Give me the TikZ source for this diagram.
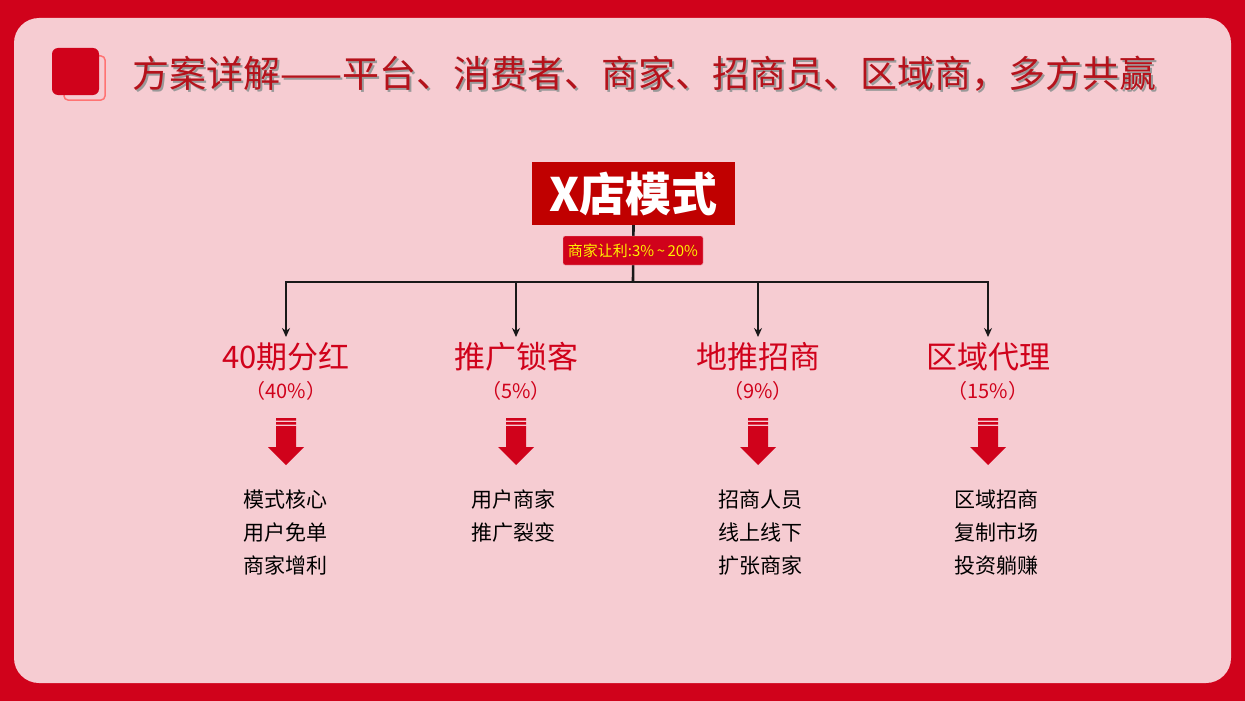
\documentclass[tikz,border=0pt]{standalone}
\usepackage{fontspec}
\setmainfont{Noto Sans CJK SC}
\usetikzlibrary{positioning,arrows.meta}
\definecolor{bordred}{HTML}{D0021B}
\definecolor{bgpink}{HTML}{F6CCD2}
\definecolor{titred}{HTML}{B5121B}
\definecolor{boxred}{HTML}{C00000}
\tikzset{
  head/.style={text=bordred,font=\fontsize{31}{31}\selectfont,inner sep=0pt},
  pct/.style={text=bordred,font=\fontsize{20}{20}\selectfont,inner sep=0pt},
  items/.style={font=\fontsize{21}{33}\selectfont,align=center,inner sep=0pt,anchor=north},
  branch/.style={line width=2.6pt,-{Stealth[length=9pt,width=8pt]},black!90}
}
\newcommand{\redarrow}[1]{%
\fill[bordred] (#1,418) rectangle ++(20,2.5) (#1,422) rectangle ++(20,2.5)
  (#1,426) rectangle ++(20,21) (#1-8,447) -- (#1+28,447) -- (#1+10,465) -- cycle;}
\begin{document}
\begin{tikzpicture}[x=1pt,y=-1pt]
\fill[bordred] (0,0) rectangle (1245,701);
\fill[bgpink,rounded corners=25pt] (14,18) rectangle (1231,683);
% title icon
\draw[rounded corners=4pt,draw=red!55,line width=1.5pt] (64,56) rectangle (105,100);
\fill[bordred,rounded corners=6pt] (52,48) rectangle (99,95);
\node[text=black!40,font=\fontsize{37}{37}\selectfont,anchor=west,inner sep=0pt] at (134,76) {方案详解——平台、消费者、商家、招商员、区域商，多方共赢};
\node[text=titred,font=\fontsize{37}{37}\selectfont,anchor=west,inner sep=0pt] (title) at (132,74) {方案详解——平台、消费者、商家、招商员、区域商，多方共赢};
% top boxes
\node[fill=boxred,text=white,font=\bfseries\fontsize{46}{46}\selectfont,minimum width=203pt,minimum height=63pt,inner sep=0pt] (main) at (633.5,193.5) {X店模式};
\coordinate (hub) at (633,282);
\draw[line width=2.6pt,black!90] (main.south) -- (hub);
\node[fill=bordred,draw=white!70!bordred,rounded corners=2pt,text=yellow,font=\fontsize{15}{15}\selectfont,minimum width=140pt,minimum height=29pt,inner sep=0pt] (cut) at (633,250.5) {商家让利:3\%\,\textasciitilde\,20\%};
% branches
\foreach \x/\n/\h/\p/\t/\ix in {286/a/40期分红/40\%/模式核心\\用户免单\\商家增利/285,
  516/b/推广锁客/5\%/用户商家\\推广裂变/513,
  758/c/地推招商/9\%/招商人员\\线上线下\\扩张商家/760,
  988/d/区域代理/15\%/区域招商\\复制市场\\投资躺赚/996}{
  \coordinate (t\n) at (\x,337);
  \draw[branch] (hub) -| (t\n);
  \node[head] (h\n) at (\x,357) {\h};
  \node[pct] (p\n) at (\x,391) {（\p）};
  \redarrow{\x-10}
  \node[items] (i\n) at (\ix,490) {\t};
}
\end{tikzpicture}
\end{document}
